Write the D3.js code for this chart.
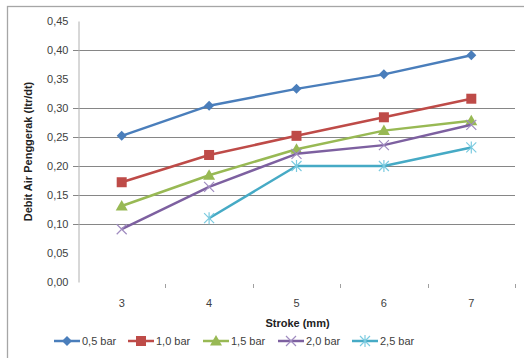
<!DOCTYPE html>
<html><head><meta charset="utf-8">
<script src="https://cdn.jsdelivr.net/npm/d3@7"></script>
<style>
html,body{margin:0;padding:0;background:#fff;}
svg{display:block;font-family:"Liberation Sans",Arial,sans-serif;}
</style></head><body>
<svg id="c" width="524" height="358"></svg>
<script>
const categories = [3, 4, 5, 6, 7];
const seriesNames = ["0,5 bar", "1,0 bar", "1,5 bar", "2,0 bar", "2,5 bar"];
const s05 = [0.252, 0.304, 0.333, 0.358, 0.391];
const s10 = [0.172, 0.219, 0.252, 0.284, 0.316];
const s15 = [0.131, 0.184, 0.229, 0.261, 0.278];
const s20 = [0.091, 0.164, 0.221, 0.236, 0.271];
const s25 = [null, 0.110, 0.200, 0.200, 0.232];
const yTicks = [0, 0.05, 0.10, 0.15, 0.20, 0.25, 0.30, 0.35, 0.40, 0.45];
const gridValues = [0.10, 0.15, 0.20, 0.25, 0.30, 0.40];
const colors = ["#4a7ebb", "#be4b48", "#98b954", "#7d60a0", "#46aac5"];
const symbols = ["diamond", "square", "triangle", "x", "star"];
const allSeries = [s05, s10, s15, s20, s25];

const svg = d3.select("#c");
const L = 78, R = 515, T = 21, B = 282;
const x = d3.scaleBand().domain(categories).range([L, R]);
const y = d3.scaleLinear().domain([0, 0.45]).range([B, T]);
const fmt = d => d.toFixed(2).replace(".", ",");

// outer border (top and left visible)
svg.append("rect").attr("x", 7.5).attr("y", 6.5).attr("width", 600).attr("height", 400)
  .attr("fill", "none").attr("stroke", "#a6a6a6").attr("stroke-width", 1.3);

// gridlines
svg.append("g").selectAll("line").data(gridValues).join("line")
  .attr("x1", L - 5).attr("x2", R)
  .attr("y1", d => Math.round(y(d)) + 0.5).attr("y2", d => Math.round(y(d)) + 0.5)
  .attr("stroke", "#868686").attr("stroke-width", 1);

// y axis
const yAxis = svg.append("g").attr("transform", `translate(${L + 0.5},0)`)
  .call(d3.axisLeft(y).tickValues(yTicks).tickFormat(fmt).tickSize(0).tickPadding(10));
yAxis.select(".domain").attr("stroke", "#b0b0b0");
yAxis.selectAll("text").attr("font-size", 11).attr("fill", "#404040")
  .attr("font-family", "'Liberation Sans',Arial,sans-serif");

// x axis
const xAxis = svg.append("g").attr("transform", `translate(0,${B + 0.5})`)
  .call(d3.axisBottom(x).tickSize(0).tickPadding(17));
xAxis.select(".domain").remove();
xAxis.selectAll("text").attr("font-size", 11).attr("fill", "#404040")
  .attr("font-family", "'Liberation Sans',Arial,sans-serif");
// band boundary tick marks
const bounds = categories.map(c => x(c) + x.bandwidth());
svg.append("g").selectAll("line").data(bounds).join("line")
  .attr("x1", d => Math.round(d) + 0.5).attr("x2", d => Math.round(d) + 0.5)
  .attr("y1", B + 2).attr("y2", B + 6)
  .attr("stroke", "#a0a0a0");

// axis titles
svg.append("text").attr("x", (L + R) / 2 + 1).attr("y", 327).attr("text-anchor", "middle")
  .attr("font-size", 11).attr("font-weight", "bold").attr("fill", "#222")
  .text("Stroke (mm)");
svg.append("text").attr("transform", `translate(32,${(T + B) / 2}) rotate(-90)`)
  .attr("text-anchor", "middle").attr("font-size", 11).attr("font-weight", "bold").attr("fill", "#222")
  .text("Debit Air Penggerak (ltr/dt)");

function drawMarker(g, type, color, cx, cy) {
  if (type === "diamond") {
    g.append("path").attr("d", `M${cx},${cy-5}L${cx+5},${cy}L${cx},${cy+5}L${cx-5},${cy}Z`).attr("fill", color);
  } else if (type === "square") {
    g.append("rect").attr("x", cx - 5).attr("y", cy - 5).attr("width", 10).attr("height", 10).attr("fill", color);
  } else if (type === "triangle") {
    g.append("path").attr("d", `M${cx},${cy-6}L${cx+6},${cy+4.5}L${cx-6},${cy+4.5}Z`).attr("fill", color);
  } else if (type === "x") {
    g.append("path").attr("d", `M${cx-5},${cy-5}L${cx+5},${cy+5}M${cx-5},${cy+5}L${cx+5},${cy-5}`)
      .attr("stroke", color).attr("stroke-width", 1.2);
  } else if (type === "star") {
    g.append("path").attr("d", `M${cx-5},${cy-5}L${cx+5},${cy+5}M${cx-5},${cy+5}L${cx+5},${cy-5}M${cx},${cy-6}L${cx},${cy+6}`)
      .attr("stroke", color).attr("stroke-width", 1.2);
  }
}

const line = d3.line().defined(d => d.v != null)
  .x(d => x(d.c) + x.bandwidth() / 2).y(d => y(d.v));
const markerColors = ["#4a7ebb", "#be4b48", "#98b954", "#a08cc0", "#7ccbe0"];

allSeries.forEach((s, i) => {
  const pts = categories.map((c, j) => ({ c, v: s[j] }));
  const g = svg.append("g");
  g.append("path").datum(pts).attr("d", line).attr("fill", "none")
    .attr("stroke", colors[i]).attr("stroke-width", 2.5).attr("stroke-linejoin", "round");
  pts.filter(p => p.v != null).forEach(p => {
    drawMarker(g, symbols[i], markerColors[i], x(p.c) + x.bandwidth() / 2, y(p.v));
  });
});

// legend
const legendX = [54, 128, 203, 278, 352];
const ly = 341;
seriesNames.forEach((n, i) => {
  const g = svg.append("g");
  g.append("line").attr("x1", legendX[i]).attr("x2", legendX[i] + 26).attr("y1", ly).attr("y2", ly)
    .attr("stroke", colors[i]).attr("stroke-width", 2.5);
  drawMarker(g, symbols[i], markerColors[i], legendX[i] + 13, ly);
  g.append("text").attr("x", legendX[i] + 28).attr("y", ly + 4).attr("font-size", 11)
    .attr("fill", "#404040").text(n);
});
</script>
</body></html>
